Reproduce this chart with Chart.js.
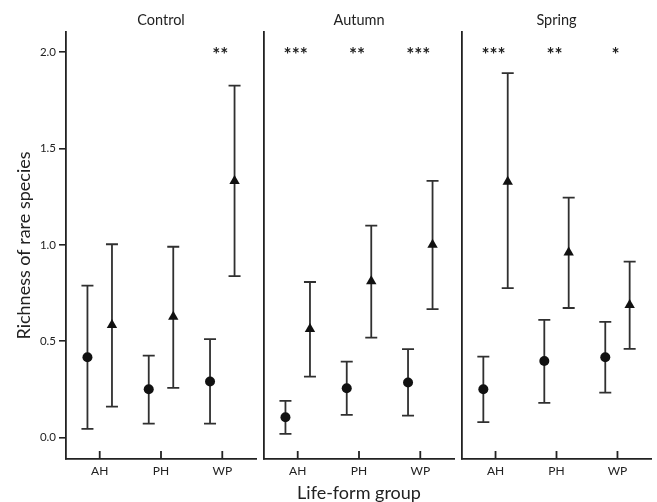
<!DOCTYPE html>
<html>
<head>
<meta charset="utf-8">
<script src="https://cdn.jsdelivr.net/npm/chart.js@4.4.1/dist/chart.umd.min.js"></script>
<style>
  html, body { margin: 0; padding: 0; background: #fff; }
  #wrap { position: relative; width: 657px; height: 502px; }
  #wrap canvas { position: absolute; left: 0; top: 0; }
</style>
</head>
<body>
<div id="wrap">
  <canvas id="c0" width="657" height="502"></canvas>
  <canvas id="c1" width="657" height="502"></canvas>
  <canvas id="c2" width="657" height="502"></canvas>
</div>
<script>
// panels and groups
const panels = ['Control', 'Autumn', 'Spring'];
const groups = ['AH', 'PH', 'WP'];
const yTicks = [0, 0.5, 1.0, 1.5, 2.0];

// circle series (mean, lower, upper) per panel
const circleMean = [[0.416, 0.25, 0.29], [0.105, 0.255, 0.285], [0.25, 0.397, 0.416]];
const circleLow  = [[0.044, 0.072, 0.072], [0.018, 0.117, 0.113], [0.079, 0.179, 0.233]];
const circleHigh = [[0.788, 0.425, 0.51], [0.19, 0.394, 0.458], [0.42, 0.61, 0.60]];

// triangle series (mean, lower, upper) per panel
const triMean = [[0.584, 0.627, 1.331], [0.563, 0.811, 1.0], [1.328, 0.96, 0.688]];
const triLow  = [[0.16, 0.257, 0.838], [0.316, 0.518, 0.666], [0.775, 0.672, 0.46]];
const triHigh = [[1.003, 0.99, 1.827], [0.807, 1.10, 1.332], [1.891, 1.245, 0.913]];

// significance marks
const stars = [['', '', '**'], ['***', '**', '***'], ['***', '**', '*']];

Chart.defaults.font.family = 'Lato';
Chart.defaults.color = '#222';

const ink = '#222';
const panelLeft = [66, 264, 462];
const panelRight = [256, 454, 652];

// error bars, x ticks (inward) and stars
const errorBars = {
  id: 'errorBars',
  beforeDatasetsDraw(chart) {
    const ctx = chart.ctx, xs = chart.scales.x, ys = chart.scales.y;
    ctx.save();
    ctx.strokeStyle = '#303030';
    ctx.lineWidth = 1.8;
    chart.data.datasets.forEach(ds => {
      ds.data.forEach((p, i) => {
        const px = xs.getPixelForValue(p.x);
        const top = ys.getPixelForValue(ds.high[i]);
        const bot = ys.getPixelForValue(ds.low[i]);
        ctx.beginPath();
        ctx.moveTo(px, top); ctx.lineTo(px, bot);
        ctx.moveTo(px - 6, top); ctx.lineTo(px + 6, top);
        ctx.moveTo(px - 6, bot); ctx.lineTo(px + 6, bot);
        ctx.stroke();
      });
    });
    // x tick marks pointing up
    ctx.strokeStyle = ink;
    groups.forEach((g, i) => {
      const px = xs.getPixelForValue(i);
      ctx.beginPath();
      ctx.moveTo(px, xs.top);
      ctx.lineTo(px, xs.top - 8);
      ctx.stroke();
    });
    ctx.restore();
  },
  afterDatasetsDraw(chart, args, opts) {
    const ctx = chart.ctx, xs = chart.scales.x, ys = chart.scales.y;
    ctx.save();
    ctx.fillStyle = ink;
    ctx.font = 'bold 19px Lato';
    ctx.textAlign = 'center';
    ctx.textBaseline = 'alphabetic';
    opts.stars.forEach((s, i) => {
      ctx.fillText(s, xs.getPixelForValue(i) - 2, ys.getPixelForValue(2.0) + 9);
    });
    ctx.restore();
  }
};

panels.forEach((name, p) => {
  new Chart(document.getElementById('c' + p), {
    type: 'scatter',
    data: {
      datasets: [
        {
          label: 'circle',
          data: groups.map((g, i) => ({ x: i - 0.2, y: circleMean[p][i] })),
          low: circleLow[p],
          high: circleHigh[p],
          pointStyle: 'circle',
          pointRadius: 5,
          backgroundColor: '#111',
          borderColor: '#111',
          borderWidth: 0
        },
        {
          label: 'triangle',
          data: groups.map((g, i) => ({ x: i + 0.2, y: triMean[p][i] })),
          low: triLow[p],
          high: triHigh[p],
          pointStyle: 'triangle',
          pointRadius: 6,
          backgroundColor: '#111',
          borderColor: '#111',
          borderWidth: 0
        }
      ]
    },
    options: {
      responsive: false,
      animation: false,
      events: [],
      layout: { padding: { left: 0, right: 657 - panelRight[p], top: 0, bottom: 0 } },
      plugins: {
        legend: { display: false },
        tooltip: { enabled: false },
        title: {
          display: true,
          text: name,
          fullSize: false,
          color: ink,
          font: { size: 14.5, weight: 'normal' },
          padding: { top: 12, bottom: 2.6 }
        },
        errorBars: { stars: stars[p] }
      },
      scales: {
        x: {
          type: 'linear',
          min: -0.55,
          max: 2.55,
          afterBuildTicks: s => { s.ticks = groups.map((g, i) => ({ value: i })); },
          afterFit: s => { s.height = 43; },
          ticks: {
            callback: v => groups[v],
            font: { size: 12 },
            color: ink,
            padding: 5,
            maxRotation: 0,
            autoSkip: false
          },
          grid: { display: false, drawOnChartArea: false, drawTicks: false },
          border: { display: true, color: ink, width: 1.8 },
          title: {
            display: p === 1,
            text: 'Life-form group',
            color: ink,
            font: { size: 18, lineHeight: 1.0 },
            padding: { top: 0, bottom: 0 }
          }
        },
        y: {
          min: -0.112,
          max: 2.105,
          afterBuildTicks: s => { s.ticks = yTicks.map(v => ({ value: v })); },
          afterFit: s => { s.width = panelLeft[p]; },
          ticks: {
            display: p === 0,
            callback: v => v.toFixed(1),
            font: { size: 11.5 },
            color: ink,
            padding: 3
          },
          grid: { display: p === 0, drawOnChartArea: false, drawTicks: true, tickLength: 7, color: ink, lineWidth: 1.6 },
          border: { display: true, color: ink, width: 1.8 },
          title: {
            display: p === 0,
            text: 'Richness of rare species',
            color: ink,
            font: { size: 18 },
            padding: { top: 13, bottom: 0 }
          }
        }
      }
    },
    plugins: [errorBars]
  });
});
</script>
</body>
</html>
